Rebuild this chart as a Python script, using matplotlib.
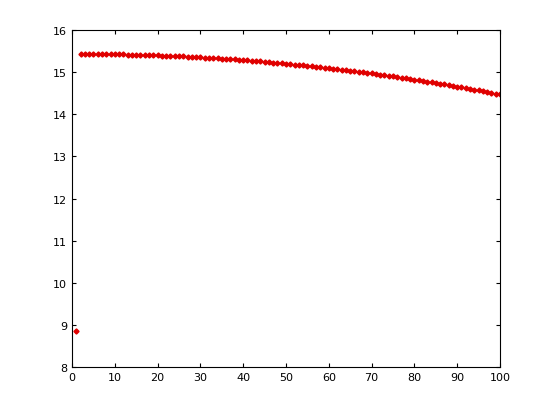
import matplotlib
matplotlib.use("Agg")
import matplotlib.pyplot as plt

x_vals = list(range(1, 101))
y_vals = [8.85,
    15.430, 15.430, 15.430, 15.429, 15.428, 15.427, 15.426, 15.425, 15.424,
    15.422, 15.420, 15.418, 15.416, 15.413, 15.410, 15.408, 15.404, 15.401, 15.398,
    15.394, 15.390, 15.386, 15.382, 15.377, 15.372, 15.368, 15.362, 15.357, 15.352,
    15.346, 15.340, 15.334, 15.328, 15.321, 15.314, 15.308, 15.300, 15.293, 15.286,
    15.278, 15.270, 15.262, 15.254, 15.245, 15.236, 15.228, 15.218, 15.209, 15.200,
    15.190, 15.180, 15.170, 15.160, 15.149, 15.138, 15.128, 15.116, 15.105, 15.094,
    15.082, 15.070, 15.058, 15.046, 15.033, 15.020, 15.008, 14.994, 14.981, 14.968,
    14.954, 14.940, 14.926, 14.912, 14.897, 14.882, 14.868, 14.852, 14.837, 14.822,
    14.806, 14.790, 14.774, 14.758, 14.741, 14.724, 14.708, 14.690, 14.673, 14.656,
    14.638, 14.620, 14.602, 14.584, 14.565, 14.546, 14.528, 14.508, 14.489, 14.470]
x_ticks = list(range(0, 101, 10))
y_ticks = list(range(8, 17))

fig = plt.figure(figsize=(5.53, 4.14), dpi=100)
ax = fig.add_axes([72/553, 46/414, 428/553, 337/414])
ax.plot(x_vals, y_vals, linestyle='none', marker='D', markersize=2.6,
        color='#e00000', markeredgecolor='#e00000')
ax.set_xlim(0, 100)
ax.set_ylim(8, 16)
ax.set_xticks(x_ticks)
ax.set_yticks(y_ticks)
ax.tick_params(direction='in', top=True, right=True, labelsize=8, length=3, width=0.8)
for s in ax.spines.values():
    s.set_linewidth(0.8)
fig.savefig("out.png", dpi=100)
